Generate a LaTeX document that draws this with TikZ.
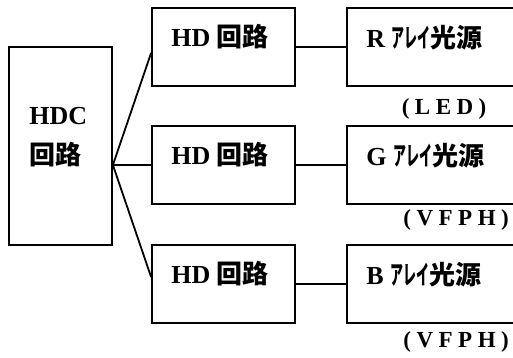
\documentclass[tikz,border=0pt]{standalone}
\usepackage{fontspec}
\usepackage{graphicx}
\setmainfont{Liberation Serif}
\newfontfamily\cjk{Noto Sans CJK JP}
\usetikzlibrary{calc}
\newcommand{\gap}{\hspace{5.5pt}}
\begin{document}
\begin{tikzpicture}[x=1pt,y=-1pt,
  box/.style={draw,line width=1.8pt,inner sep=0pt},
  conn/.style={line width=1.8pt},
  txt/.style={inner sep=0pt,font=\fontsize{26}{30}\selectfont\bfseries},
  note/.style={inner sep=0pt,font=\fontsize{23}{26}\selectfont\bfseries}]
\useasboundingbox (0,0) rectangle (513,358);
\clip (0,0) rectangle (513,358);
% boxes
\node[box,minimum width=103pt,minimum height=198pt] (hdc) at (60.5,146) {};
\node[box,minimum width=143pt,minimum height=78pt] (hd1) at (223.5,47) {};
\node[box,minimum width=143pt,minimum height=78pt] (hd2) at (223.5,165) {};
\node[box,minimum width=143pt,minimum height=78pt] (hd3) at (223.5,284) {};
\node[box,minimum width=190pt,minimum height=78pt] (src1) at (442,47) {};
\node[box,minimum width=190pt,minimum height=78pt] (src2) at (442,165) {};
\node[box,minimum width=190pt,minimum height=78pt] (src3) at (442,284) {};
% connectors
\coordinate (apex) at (hdc.east |- hd2.west);
\draw[conn] (apex) -- ($(hd1.west)+(0,6)$);
\draw[conn] (apex) -- (hd2.west);
\draw[conn] (apex) -- ($(hd3.west)+(0,-7)$);
\draw[conn] (hd1) -- (src1);
\draw[conn] (hd2) -- (src2);
\draw[conn] (hd3) -- (src3);
% texts
\node[txt,anchor=west] (thdc) at ($(hdc.west)+(21,-30)$) {HDC};
\node[txt,anchor=west] (thdc2) at ($(hdc.west)+(21,9)$) {\cjk 回路};
\node[txt,anchor=west] (th1) at ($(hd1.north west)+(20,30)$) {HD {\cjk 回路}};
\node[txt,anchor=west] (th2) at ($(hd2.north west)+(20,30)$) {HD {\cjk 回路}};
\node[txt,anchor=west] (th3) at ($(hd3.north west)+(20,30)$) {HD {\cjk 回路}};
\node[txt,anchor=west] (ts1) at ($(src1.north west)+(20,31)$) {R {\cjk\scalebox{0.5}[1]{アレイ}光源}};
\node[txt,anchor=west] (ts2) at ($(src2.north west)+(20,31)$) {G {\cjk\scalebox{0.5}[1]{アレイ}光源}};
\node[txt,anchor=west] (ts3) at ($(src3.north west)+(20,31)$) {B {\cjk\scalebox{0.5}[1]{アレイ}光源}};
\node[note] (n1) at ($(src1.south west)+(98,22)$) {(\gap L\gap E\gap D\gap)};
\node[note] (n2) at ($(src2.south west)+(110,15)$) {(\gap V\gap F\gap P\gap H\gap)};
\node[note] (n3) at ($(src3.south west)+(110,18)$) {(\gap V\gap F\gap P\gap H\gap)};
\end{tikzpicture}
\end{document}
